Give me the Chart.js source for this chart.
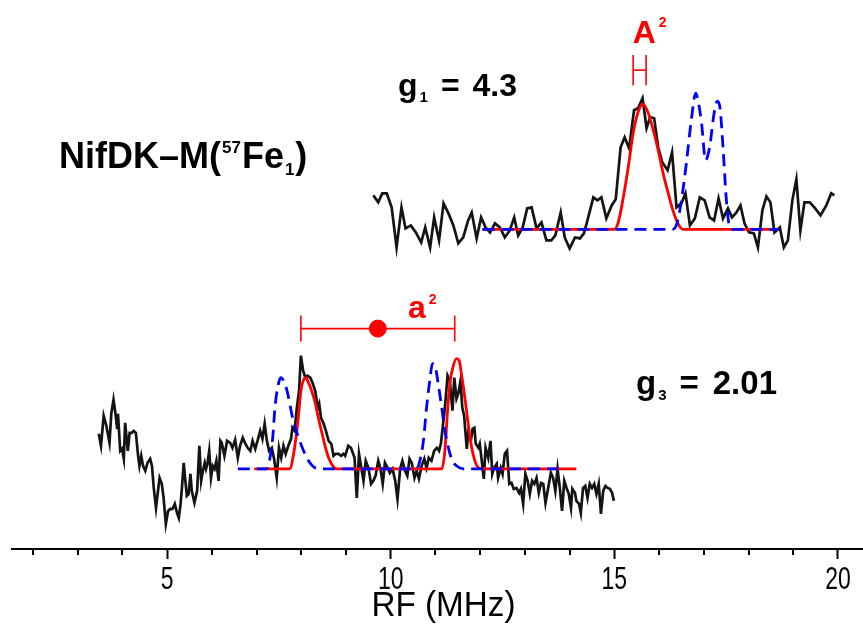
<!DOCTYPE html>
<html>
<head>
<title>NifDK-M(57Fe1) ENDOR</title>
<script src="https://cdn.jsdelivr.net/npm/chart.js@4.4.0/dist/chart.umd.min.js"></script>
<style>
body { margin: 0; background: #fff; }
.wrapper { width: 863px; height: 632px; }
</style>
</head>
<body>
<div class="wrapper">
  <canvas id="myChart" width="863" height="632"></canvas>
</div>
<script>
// RF axis ticks (MHz)
var majorTicks = [5, 10, 15, 20];
var minorTicks = [2, 3, 4, 6, 7, 8, 9, 11, 12, 13, 14, 16, 17, 18, 19];

// vertical offsets of the two spectra (arb. units)
var offsetG1 = 319;
var offsetG3 = 80;

// g1 = 4.3 : experimental trace [MHz, intensity]
var g1Trace = [[9.61,34],[9.72,27],[9.81,36],[9.91,36],[10.02,22],[10.13,-18],[10.24,22],[10.33,1],[10.45,4],[10.56,-3],
  [10.68,-13],[10.77,2],[10.88,-18],[10.97,12],[11.08,-11],[11.18,26],[11.29,16],[11.40,4],[11.51,-14],[11.62,-8],
  [11.73,9],[11.81,17],[11.92,-9],[12.02,12],[12.12,2],[12.22,-3],[12.33,6],[12.44,2],[12.55,-8],[12.66,-1],
  [12.76,12],[12.85,-6],[12.95,2],[13.05,21],[13.15,22],[13.26,1],[13.37,7],[13.48,-11],[13.59,-11],[13.68,-6],
  [13.80,17],[13.89,-8],[14.00,-19],[14.12,-8],[14.23,-9],[14.32,-4],[14.41,11],[14.53,32],[14.62,29],[14.71,32],
  [14.82,11],[14.94,24],[15.03,30],[15.14,82],[15.23,92],[15.33,81],[15.44,119],[15.53,121],[15.63,131],[15.72,101],
  [15.80,112],[15.89,111],[15.98,82],[16.07,67],[16.19,59],[16.29,77],[16.39,22],[16.50,26],[16.59,36],[16.69,4],
  [16.80,11],[16.91,32],[17.02,29],[17.13,12],[17.23,9],[17.33,31],[17.43,11],[17.54,21],[17.63,12],[17.73,17],
  [17.82,24],[17.91,6],[18.01,-3],[18.12,-4],[18.21,-18],[18.31,19],[18.40,33],[18.49,27],[18.58,-3],[18.70,2],
  [18.79,-18],[18.88,-11],[18.98,29],[19.07,50],[19.16,-1],[19.25,27],[19.37,27],[19.49,21],[19.61,14],[19.74,24],
  [19.85,36],[19.92,34]];

// g1 = 4.3 : fit (red) and simulation (blue)
var g1Fit = [[12.05,0],[15.0,0],[15.08,6],[15.16,22],[15.31,62],[15.42,96],[15.53,117],[15.64,125],[15.75,117],
  [15.87,99],[15.98,79],[16.09,56],[16.20,37],[16.31,19],[16.42,6],[16.54,0],[18.68,0]];
var g1Sim = [[12.05,0],[16.3,0],[16.4,6],[16.50,29],[16.61,66],[16.72,109],[16.82,136],[16.87,129],[16.95,106],
  [17.04,69],[17.13,82],[17.23,116],[17.30,128],[17.36,122],[17.43,82],[17.50,32],[17.58,2],[17.65,0],[18.68,0]];

// g3 = 2.01 : experimental trace [MHz, intensity]
var g3Trace = [[3.47,35],[3.52,23],[3.58,53],[3.64,43],[3.71,26],[3.75,55],[3.80,69],[3.85,53],[3.88,41],[3.90,55],
  [3.95,18],[3.99,20],[4.03,10],[4.06,46],[4.12,18],[4.16,36],[4.21,36],[4.25,38],[4.30,36],[4.35,13],
  [4.38,3],[4.42,13],[4.46,3],[4.51,-2],[4.56,6],[4.62,10],[4.66,3],[4.70,-19],[4.75,-39],[4.83,-9],
  [4.88,-15],[4.92,-29],[4.97,-55],[5.02,-42],[5.07,-40],[5.12,-40],[5.17,-35],[5.22,-44],[5.26,-49],[5.30,-35],
  [5.33,-19],[5.37,6],[5.40,-9],[5.44,-27],[5.48,-25],[5.52,-5],[5.55,-22],[5.61,-34],[5.67,-22],[5.72,23],
  [5.76,-12],[5.79,-4],[5.84,6],[5.87,0],[5.90,5],[5.94,18],[5.98,-9],[6.02,3],[6.06,0],[6.10,8],
  [6.15,-12],[6.19,28],[6.22,26],[6.28,13],[6.34,28],[6.41,26],[6.46,21],[6.52,29],[6.58,11],[6.63,23],
  [6.69,31],[6.74,26],[6.80,21],[6.86,18],[6.91,28],[6.97,20],[7.02,28],[7.08,38],[7.13,30],[7.18,45],
  [7.23,28],[7.28,18],[7.34,21],[7.39,10],[7.45,-9],[7.50,21],[7.55,11],[7.60,23],[7.65,15],[7.71,23],
  [7.77,30],[7.80,41],[7.85,38],[7.90,61],[7.95,78],[7.99,113],[8.04,98],[8.09,91],[8.14,93],[8.20,91],
  [8.25,86],[8.31,78],[8.37,61],[8.40,65],[8.44,51],[8.50,45],[8.55,38],[8.61,28],[8.67,25],[8.72,13],
  [8.77,15],[8.83,15],[8.89,13],[8.94,15],[8.98,13],[9.05,23],[9.11,21],[9.19,11],[9.24,-29],[9.29,15],
  [9.34,1],[9.39,-12],[9.44,8],[9.50,1],[9.56,-15],[9.61,-12],[9.66,-7],[9.72,8],[9.77,0],[9.82,-15],
  [9.87,6],[9.93,1],[9.98,-4],[10.04,0],[10.10,-12],[10.15,-30],[10.21,0],[10.26,8],[10.32,-2],[10.37,-7],
  [10.42,10],[10.47,6],[10.53,-9],[10.58,-2],[10.63,-10],[10.69,3],[10.75,10],[10.80,1],[10.85,11],[10.91,8],
  [10.97,18],[11.03,21],[11.08,18],[11.12,25],[11.16,41],[11.21,61],[11.27,93],[11.32,88],[11.38,58],[11.42,91],
  [11.47,70],[11.51,75],[11.56,88],[11.60,61],[11.64,53],[11.70,20],[11.73,35],[11.79,28],[11.83,40],[11.87,41],
  [11.90,25],[11.96,21],[11.99,25],[12.03,10],[12.08,-10],[12.12,21],[12.18,11],[12.23,28],[12.27,-5],[12.31,1],
  [12.37,5],[12.40,-9],[12.46,1],[12.50,-5],[12.55,15],[12.60,18],[12.65,-15],[12.70,-14],[12.75,-20],[12.81,-19],
  [12.87,-24],[12.91,-20],[12.96,-35],[13.01,-5],[13.06,-12],[13.11,-25],[13.16,-12],[13.21,-15],[13.26,-9],[13.31,-24],
  [13.36,-14],[13.41,-15],[13.46,-34],[13.52,-19],[13.58,-4],[13.63,-9],[13.68,-22],[13.73,0],[13.78,-19],[13.83,-42],
  [13.88,-12],[13.93,-19],[13.98,-25],[14.03,-39],[14.06,-20],[14.12,-24],[14.15,-32],[14.21,-35],[14.25,-44],[14.30,-19],
  [14.35,-17],[14.40,-29],[14.45,-15],[14.50,-19],[14.55,-15],[14.60,-25],[14.65,-15],[14.70,-45],[14.75,-22],[14.80,-17],
  [14.85,-19],[14.90,-20],[14.95,-24],[14.99,-32]];

// g3 = 2.01 : fit (red) and simulation (blue)
var g3Fit = [[6.95,0],[7.75,0],[7.82,13],[7.88,31],[7.94,55],[7.99,78],[8.05,89],[8.10,91],[8.16,86],[8.23,78],
  [8.31,66],[8.38,51],[8.46,36],[8.53,23],[8.61,11],[8.72,2],[8.79,0],[11.14,0],[11.21,18],[11.27,58],
  [11.32,85],[11.40,103],[11.47,110],[11.53,108],[11.58,95],[11.66,70],[11.73,45],[11.81,21],[11.88,8],[11.96,1],
  [12.03,0],[14.15,0]];
var g3Sim = [[6.58,0],[7.23,0],[7.30,11],[7.36,31],[7.41,61],[7.47,81],[7.54,91],[7.60,88],[7.68,78],[7.75,63],
  [7.82,48],[7.94,31],[8.05,18],[8.16,8],[8.31,1],[8.46,0],[10.58,0],[10.65,8],[10.73,28],[10.80,61],
  [10.88,91],[10.93,105],[10.99,103],[11.06,85],[11.14,61],[11.21,38],[11.29,21],[11.36,10],[11.47,3],[11.62,0],
  [13.75,0]];

// hyperfine splittings marked above the spectra (MHz)
var a2Split = [7.99, 11.43];
var A2Split = [15.42, 15.71];

var RED = '#ff0000', BLUE = '#0000ff', BLACK = '#141414';
var FONT = '"Liberation Sans", Arial, sans-serif';

function shift(arr, off) {
  return arr.map(function (p) { return { x: p[0], y: p[1] + off }; });
}

// bar levels for the splitting markers
var a2Level = offsetG3 + 140, a2Cap = 13;
var A2Level = 478, A2Cap = 15;

function seg(x1, y1, x2, y2) {
  return {
    data: [{ x: x1, y: y1 }, { x: x2, y: y2 }],
    borderColor: RED, borderWidth: 1.6, pointRadius: 0, showLine: true, order: 0
  };
}

var a2Mid = (a2Split[0] + a2Split[1]) / 2;

var datasets = [
  { data: shift(g1Sim, offsetG1), borderColor: BLUE, borderWidth: 2.8, borderDash: [12, 7], order: 1, cubicInterpolationMode: 'monotone' },
  { data: shift(g3Sim, offsetG3), borderColor: BLUE, borderWidth: 2.8, borderDash: [12, 7], order: 1, cubicInterpolationMode: 'monotone' },
  { data: shift(g1Fit, offsetG1), borderColor: RED, borderWidth: 2.8, order: 2, cubicInterpolationMode: 'monotone' },
  { data: shift(g3Fit, offsetG3), borderColor: RED, borderWidth: 2.8, order: 2, cubicInterpolationMode: 'monotone' },
  { data: shift(g1Trace, offsetG1), borderColor: BLACK, borderWidth: 2.7, order: 3 },
  { data: shift(g3Trace, offsetG3), borderColor: BLACK, borderWidth: 2.7, order: 3 },
  seg(a2Split[0], a2Level, a2Split[1], a2Level),
  seg(a2Split[0], a2Level - a2Cap, a2Split[0], a2Level + a2Cap),
  seg(a2Split[1], a2Level - a2Cap, a2Split[1], a2Level + a2Cap),
  seg(A2Split[0], A2Level, A2Split[1], A2Level),
  seg(A2Split[0], A2Level - A2Cap, A2Split[0], A2Level + A2Cap),
  seg(A2Split[1], A2Level - A2Cap, A2Split[1], A2Level + A2Cap),
  { data: [{ x: a2Mid, y: a2Level }], pointRadius: 8.5, pointBackgroundColor: RED, pointBorderColor: RED, showLine: false, order: 0 }
];
datasets.forEach(function (d) {
  if (d.showLine === undefined) { d.showLine = true; d.pointRadius = 0; }
  d.fill = false;
});

// draw text made of runs (normal / super / subscript)
function drawRuns(ctx, x, y, color, runs) {
  ctx.fillStyle = color;
  ctx.textBaseline = 'alphabetic';
  ctx.textAlign = 'left';
  runs.forEach(function (r) {
    x += (r.dx || 0);
    ctx.font = 'bold ' + r.size + 'px ' + FONT;
    ctx.fillText(r.t, x, y + (r.dy || 0));
    x += ctx.measureText(r.t).width;
  });
}

var extras = {
  id: 'extras',
  beforeDraw: function (c) {
    var ctx = c.ctx;
    ctx.save();
    ctx.fillStyle = '#fff';
    ctx.fillRect(0, 0, c.width, c.height);
    ctx.restore();
  },
  afterDraw: function (c) {
    var ctx = c.ctx, xs = c.scales.x, ys = c.scales.y;
    ctx.save();
    // minor ticks
    ctx.strokeStyle = '#000';
    ctx.lineWidth = 2;
    minorTicks.forEach(function (v) {
      var px = Math.round(xs.getPixelForValue(v));
      ctx.beginPath();
      ctx.moveTo(px, xs.top);
      ctx.lineTo(px, xs.top + 6);
      ctx.stroke();
    });
    // narrow tick labels
    ctx.fillStyle = '#000';
    ctx.textAlign = 'center';
    ctx.textBaseline = 'middle';
    ctx.font = '31px ' + FONT;
    majorTicks.forEach(function (v) {
      ctx.save();
      ctx.translate(xs.getPixelForValue(v), xs.top + 31);
      ctx.scale(0.74, 1);
      ctx.fillText(String(v), 0, 0);
      ctx.restore();
    });
    // axis title
    ctx.font = '35px ' + FONT;
    ctx.save();
    ctx.translate((xs.left + xs.right) / 2 + 6, 606);
    ctx.scale(0.95, 1);
    ctx.fillText('RF (MHz)', 0, 0);
    ctx.restore();

    // labels
    drawRuns(ctx, 59, 168, '#000', [
      { t: 'NifDK\u2013M(', size: 36 },
      { t: '57', size: 17, dy: -15, dx: 1 },
      { t: 'Fe', size: 36, dx: 1 },
      { t: '1', size: 17, dy: 7, dx: 1 },
      { t: ')', size: 36, dx: 1 }
    ]);
    drawRuns(ctx, 398, 96, '#000', [
      { t: 'g', size: 32 },
      { t: '1', size: 15, dy: 6, dx: 2 },
      { t: '=', size: 32, dx: 13 },
      { t: '4.3', size: 32, dx: 13 }
    ]);
    drawRuns(ctx, 636, 394, '#000', [
      { t: 'g', size: 33 },
      { t: '3', size: 15, dy: 6, dx: 2 },
      { t: '=', size: 33, dx: 13 },
      { t: '2.01', size: 33, dx: 14 }
    ]);
    var ax = xs.getPixelForValue((A2Split[0] + A2Split[1]) / 2);
    drawRuns(ctx, ax - 7, 43, RED, [
      { t: 'A', size: 32 },
      { t: '2', size: 14, dy: -16, dx: 3 }
    ]);
    drawRuns(ctx, 408, ys.getPixelForValue(a2Level) - 11, RED, [
      { t: 'a', size: 32 },
      { t: '2', size: 14, dy: -14, dx: 3 }
    ]);
    ctx.restore();
  }
};

var myChart = new Chart(document.getElementById('myChart'), {
  type: 'scatter',
  data: { datasets: datasets },
  options: {
    responsive: false,
    animation: false,
    devicePixelRatio: 1,
    layout: { autoPadding: false, padding: { left: 12, right: 0, top: 0, bottom: 33 } },
    plugins: { legend: { display: false }, tooltip: { enabled: false } },
    scales: {
      x: {
        type: 'linear',
        min: 1.53,
        max: 20.56,
        afterBuildTicks: function (s) {
          s.ticks = majorTicks.concat(minorTicks).sort(function (a, b) { return a - b; })
            .map(function (v) { return { value: v }; });
        },
        ticks: {
          autoSkip: false,
          maxRotation: 0,
          padding: 6,
          color: 'rgba(0,0,0,0)',
          font: { family: FONT, size: 28, lineHeight: 1 },
          callback: function (v) { return majorTicks.indexOf(v) >= 0 ? String(v) : ''; }
        },
        grid: {
          display: true,
          drawOnChartArea: false,
          drawTicks: true,
          tickLength: 10,
          tickWidth: 2,
          tickColor: function (ctx) {
            return ctx.tick && majorTicks.indexOf(ctx.tick.value) >= 0 ? '#000' : 'rgba(0,0,0,0)';
          }
        },
        border: { display: true, color: '#000', width: 2 }
      },
      y: { type: 'linear', min: 0, max: 548, display: false }
    }
  },
  plugins: [extras]
});
</script>
</body>
</html>
